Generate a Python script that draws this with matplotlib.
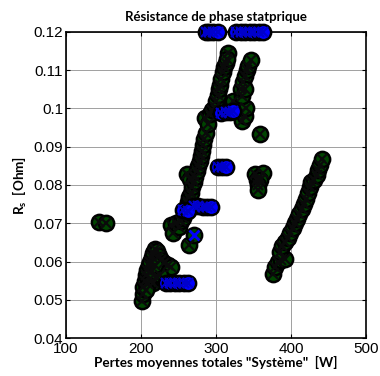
import matplotlib
matplotlib.use("Agg")
import matplotlib.pyplot as plt

# Operating points: losses [W] vs stator phase resistance [Ohm]
green_x = [144, 153,
           201, 202, 203, 205, 206, 208, 210, 212, 214, 216, 218, 221, 224, 227, 231, 236, 240,
           212, 216, 220, 225, 209, 214, 219, 207,
           240, 243, 246, 250, 253, 256, 258, 260, 262, 264, 266, 261, 265, 268, 270, 272, 274,
           276, 278, 280, 281, 283, 284, 286, 285, 289, 292, 295, 298, 300, 302, 304, 305, 307,
           309, 311, 313, 316, 314, 264, 270,
           322, 328, 331, 334, 338, 340, 335, 333, 336, 339, 341, 343, 346, 338,
           359,
           352, 357, 363, 354, 359, 356, 356,
           376, 379, 382, 387, 392, 385, 388, 392, 396, 399, 402, 405, 408, 411, 414, 417, 420,
           423, 425, 427, 431, 434, 436, 438, 441]
green_y = [0.0702, 0.0700,
           0.0497, 0.0515, 0.0533, 0.0550, 0.0565, 0.0578, 0.0590, 0.0600, 0.0612, 0.0622, 0.0632,
           0.0628, 0.0615, 0.0605, 0.0596, 0.0590, 0.0585,
           0.0555, 0.0545, 0.0560, 0.0565, 0.0540, 0.0575, 0.0590, 0.0525,
           0.0695, 0.0675, 0.0700, 0.0690, 0.0705, 0.0715, 0.0728, 0.0740, 0.0755, 0.0768, 0.0780,
           0.0830, 0.0815, 0.0795, 0.0808, 0.0822, 0.0836, 0.0850, 0.0863, 0.0876, 0.0890, 0.0905,
           0.0920, 0.0935, 0.0975, 0.0960, 0.0985, 0.0997, 0.1005, 0.1020, 0.1035, 0.1050, 0.1062,
           0.1078, 0.1095, 0.1108, 0.1120, 0.1145, 0.1130, 0.0643, 0.0669,
           0.1020, 0.1000, 0.0985, 0.0968, 0.0980, 0.1000, 0.1032, 0.1052, 0.1068, 0.1085, 0.1100,
           0.1112, 0.1127, 0.1050,
           0.0932,
           0.0830, 0.0822, 0.0832, 0.0812, 0.0812, 0.0800, 0.0788,
           0.0568, 0.0585, 0.0598, 0.0605, 0.0607, 0.0625, 0.0640, 0.0650, 0.0662, 0.0675, 0.0688,
           0.0700, 0.0712, 0.0725, 0.0738, 0.0750, 0.0763, 0.0778, 0.0795, 0.0808, 0.0812, 0.0826,
           0.0840, 0.0853, 0.0867]

blue_x = [286, 291, 296, 302, 327, 333, 339, 345, 351, 357, 363,
          302, 308, 313,
          307, 313, 318, 323,
          270, 276, 282, 288, 293, 256, 262,
          233, 239, 245, 251, 257, 262]
blue_y = [0.12, 0.12, 0.12, 0.12, 0.12, 0.12, 0.12, 0.12, 0.12, 0.12, 0.12,
          0.0848, 0.0848, 0.0848,
          0.0988, 0.0990, 0.0990, 0.0993,
          0.0745, 0.0745, 0.0743, 0.0743, 0.0743, 0.0735, 0.0733,
          0.0545, 0.0545, 0.0545, 0.0545, 0.0545, 0.0545]

# single cross overlaid on a green point
cross_x = [270]
cross_y = [0.0669]

x_ticks = [100, 200, 300, 400, 500]
y_ticks = [0.04, 0.05, 0.06, 0.07, 0.08, 0.09, 0.1, 0.11, 0.12]
y_ticklabels = ["0.04", "0.05", "0.06", "0.07", "0.08", "0.09", "0.1", "0.11", "0.12"]

fig = plt.figure(figsize=(3.8, 3.76), dpi=100)
ax = fig.add_axes([0.1737, 0.101, 0.7895, 0.814])

green = "#004400"
blue = "#0000ff"
ax.plot(green_x, green_y, "o", ms=11, mfc=green, mec="k", mew=1.8, zorder=3, clip_on=False)
ax.plot(green_x, green_y, "x", ms=7.5, mec="#0a0a0a", mew=1.6, zorder=4, clip_on=False)
ax.plot(blue_x, blue_y, "o", ms=11, mfc=blue, mec="k", mew=1.8, zorder=5, clip_on=False)
ax.plot(blue_x, blue_y, "x", ms=7.5, mec="#0000cc", mew=1.6, zorder=6, clip_on=False)
ax.plot(cross_x, cross_y, "x", ms=7.5, mec=blue, mew=2.0, zorder=6)

ax.set_xlim(100, 500)
ax.set_ylim(0.04, 0.12)
ax.set_xticks(x_ticks)
ax.set_yticks(y_ticks)
ax.set_yticklabels(y_ticklabels)
ax.grid(True, color="#a0a0a0", linewidth=0.7, linestyle="-")
ax.set_axisbelow(True)
ax.tick_params(direction="in", length=3, labelsize=11, width=0.8, top=True, right=True,
               labeltop=False, labelright=False, pad=2)
ax.tick_params(axis="x", pad=3)
for lbl in ax.get_xticklabels() + ax.get_yticklabels():
    lbl.set_fontfamily("Liberation Sans")
for s in ax.spines.values():
    s.set_linewidth(1.2)

ax.set_title("Résistance de phase statprique", fontsize=9.5, fontweight="bold",
             fontfamily="Lato", pad=8)
ax.set_xlabel('Pertes moyennes totales "Système"  [W]', fontsize=9.7, fontweight="bold",
              fontfamily="Lato", labelpad=0)
ax.set_ylabel(r"R$_\mathregular{s}$  [Ohm]", fontsize=9.7, fontweight="bold",
              fontfamily="Lato", labelpad=3)

fig.savefig("out.png", dpi=100)
